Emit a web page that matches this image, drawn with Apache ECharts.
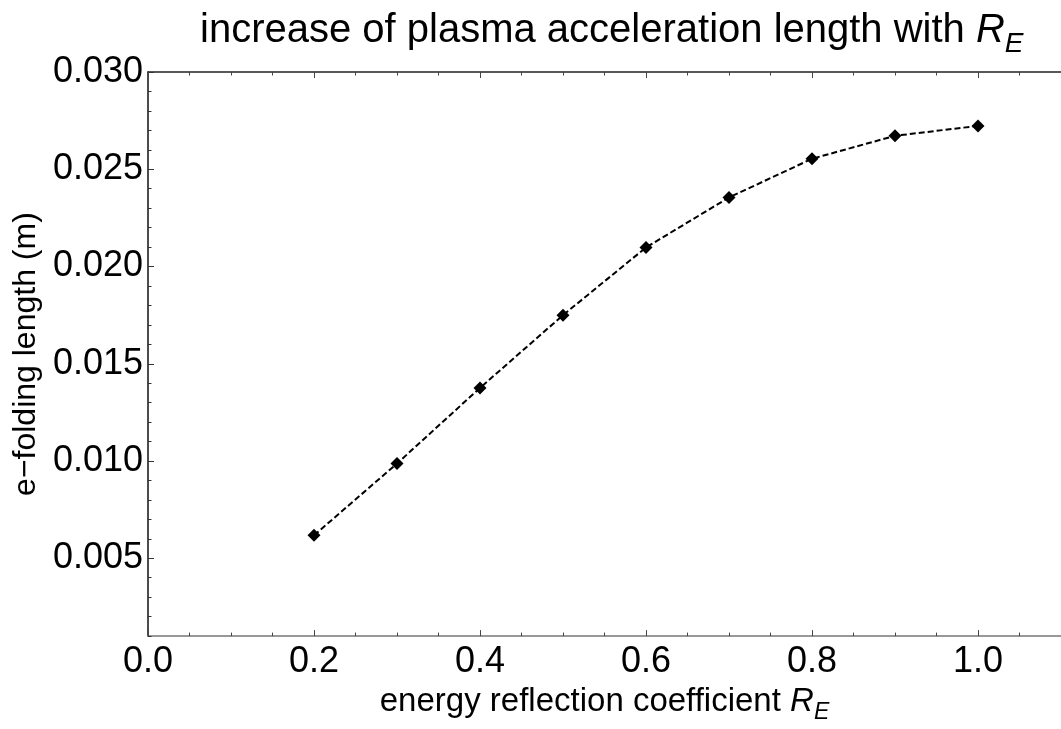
<!DOCTYPE html>
<html>
<head>
<meta charset="utf-8">
<script src="https://cdn.jsdelivr.net/npm/echarts@6/dist/echarts.min.js"></script>
<style>
html,body{margin:0;padding:0;background:#fff;}
#c{width:1061px;height:729px;}
</style>
</head>
<body>
<div id="c"></div>
<script>
// Data
const reflectionCoeff = [0.2, 0.3, 0.4, 0.5, 0.6, 0.7, 0.8, 0.9, 1.0];
const foldingLength = [0.00618, 0.00987, 0.01376, 0.0175, 0.02098, 0.02355, 0.02554, 0.02672, 0.02723];
const xMajorTicks = [0.0, 0.2, 0.4, 0.6, 0.8, 1.0];
const xMinorTicks = [0.05, 0.1, 0.15, 0.25, 0.3, 0.35, 0.45, 0.5, 0.55, 0.65, 0.7, 0.75, 0.85, 0.9, 0.95, 1.05];
const yMajorTicks = [0.005, 0.010, 0.015, 0.020, 0.025, 0.030];
const yMinorTicks = [0.001, 0.002, 0.003, 0.004, 0.006, 0.007, 0.008, 0.009, 0.011, 0.012, 0.013, 0.014,
  0.016, 0.017, 0.018, 0.019, 0.021, 0.022, 0.023, 0.024, 0.026, 0.027, 0.028, 0.029];
const xMin = 0, xMax = 1.1, yMin = 0.001, yMax = 0.030;

const FONT = '"Liberation Sans", Arial, Helvetica, sans-serif';
const chart = echarts.init(document.getElementById('c'), null, {renderer: 'canvas'});

function xAxisBase(extra) {
  return Object.assign({
    type: 'value', min: xMin, max: xMax, gridIndex: 0,
    splitLine: {show: false},
    axisLine: {show: false},
    axisLabel: {show: false},
    axisTick: {show: false}
  }, extra);
}
function yAxisBase(extra) {
  return Object.assign({
    type: 'value', min: yMin, max: yMax, gridIndex: 0,
    splitLine: {show: false},
    axisLine: {show: false},
    axisLabel: {show: false},
    axisTick: {show: false}
  }, extra);
}

const option = {
  backgroundColor: '#ffffff',
  animation: false,
  title: {
    text: '{n|increase of plasma acceleration length with }{i|R}{s|E}',
    left: 195, top: 6,
    textStyle: {
      fontWeight: 'normal',
      rich: {
        n: {fontFamily: FONT, fontSize: 40, fontWeight: 'normal', color: '#000', lineHeight: 48, verticalAlign: 'top'},
        i: {fontFamily: FONT, fontSize: 40, fontWeight: 'normal', fontStyle: 'italic', color: '#000', lineHeight: 48, verticalAlign: 'top'},
        s: {fontFamily: FONT, fontSize: 28, fontWeight: 'normal', fontStyle: 'italic', color: '#000', lineHeight: 34, verticalAlign: 'top', padding: [19, 0, 0, 0]}
      }
    }
  },
  grid: {left: 148, top: 72, width: 918.5, height: 567, containLabel: false},
  xAxis: [
    xAxisBase({
      position: 'bottom',
      name: '{n|energy reflection coefficient }{i|R}{s|E}',
      nameLocation: 'middle', nameGap: 46,
      nameTextStyle: {
        rich: {
          n: {fontFamily: FONT, fontSize: 33, color: '#000', lineHeight: 40, verticalAlign: 'top'},
          i: {fontFamily: FONT, fontSize: 33, fontStyle: 'italic', color: '#000', lineHeight: 40, verticalAlign: 'top'},
          s: {fontFamily: FONT, fontSize: 23, fontStyle: 'italic', color: '#000', lineHeight: 28, verticalAlign: 'top', padding: [16, 0, 0, 0]}
        }
      },
      axisLine: {show: true, lineStyle: {color: '#777', width: 1.5}},
      axisTick: {show: true, inside: true, length: 6, customValues: xMajorTicks, lineStyle: {color: '#444', width: 1}},
      axisLabel: {show: true, customValues: xMajorTicks, margin: 8, fontFamily: FONT, fontSize: 36, color: '#000',
        formatter: v => Number(v).toFixed(1)}
    }),
    xAxisBase({
      position: 'bottom',
      axisTick: {show: true, inside: true, length: 3.5, customValues: xMinorTicks, lineStyle: {color: '#444', width: 1}}
    }),
    xAxisBase({
      position: 'top',
      axisLine: {show: true, lineStyle: {color: '#222', width: 1.5}},
      axisTick: {show: true, inside: true, length: 6, customValues: xMajorTicks, lineStyle: {color: '#444', width: 1}}
    }),
    xAxisBase({
      position: 'top',
      axisTick: {show: true, inside: true, length: 3.5, customValues: xMinorTicks, lineStyle: {color: '#444', width: 1}}
    })
  ],
  yAxis: [
    yAxisBase({
      position: 'left',
      name: 'e\u2212folding length (m)',
      nameLocation: 'middle', nameRotate: 90, nameGap: 95,
      nameTextStyle: {fontFamily: FONT, fontSize: 32, color: '#000'},
      axisLine: {show: true, lineStyle: {color: '#111', width: 1.5}},
      axisTick: {show: true, inside: true, length: 6, customValues: yMajorTicks, lineStyle: {color: '#333', width: 1}},
      axisLabel: {show: true, customValues: yMajorTicks, margin: 5, fontFamily: FONT, fontSize: 36, color: '#000',
        formatter: v => Number(v).toFixed(3)}
    }),
    yAxisBase({
      position: 'left',
      axisTick: {show: true, inside: true, length: 3.5, customValues: yMinorTicks, lineStyle: {color: '#333', width: 1}}
    })
  ],
  series: [{
    type: 'line',
    xAxisIndex: 0, yAxisIndex: 0,
    data: reflectionCoeff.map((x, i) => [x, foldingLength[i]]),
    symbol: 'diamond',
    symbolSize: 13,
    showAllSymbol: true,
    itemStyle: {color: '#000'},
    lineStyle: {color: '#000', width: 2, type: [6, 3]},
    clip: false
  }]
};
chart.setOption(option);
</script>
</body>
</html>
